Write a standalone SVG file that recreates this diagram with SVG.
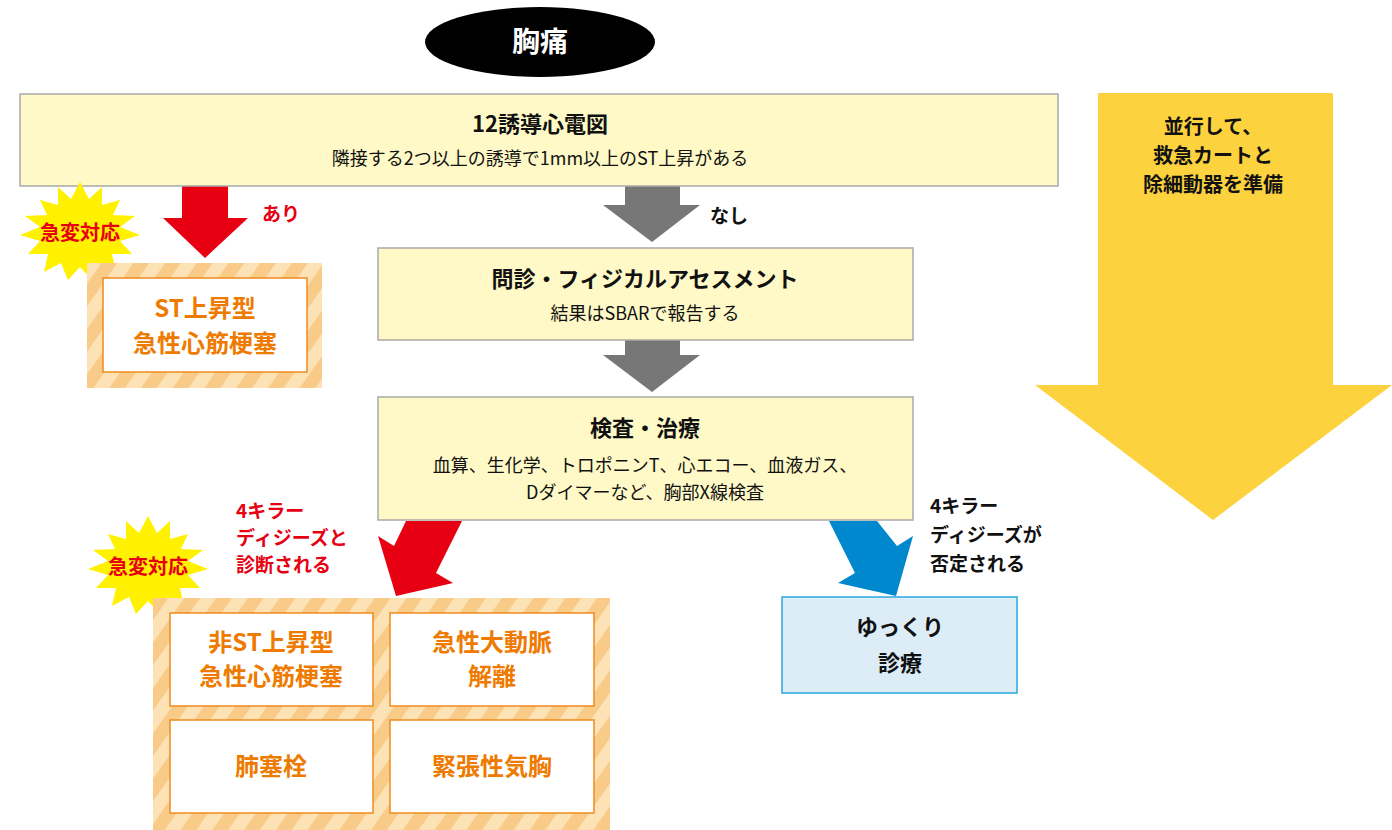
<svg xmlns="http://www.w3.org/2000/svg" width="1392" height="830" viewBox="0 0 1392 830">
<style>
text{font-family:"Noto Sans CJK JP","Noto Sans",sans-serif;text-anchor:middle}
.box{fill:#fef9c6;stroke:#a9a9a9;stroke-width:1.5}
.t{font-size:22px;font-weight:bold;fill:#111}
.s{font-size:18px;fill:#111}
.or{font-size:24px;font-weight:bold;fill:#ee7a00}
.inner{fill:#fff;stroke:#f08a1c;stroke-width:1.5}
.red{font-size:19px;font-weight:bold;fill:#e60012;text-anchor:start}
.blk{font-size:19px;font-weight:bold;fill:#111;text-anchor:start}
</style>
<defs>
<pattern id="st" patternUnits="userSpaceOnUse" width="26" height="26" patternTransform="rotate(35)">
<rect width="26" height="26" fill="#fde2b6"/><rect width="13" height="26" fill="#f9cb88"/>
</pattern>
<polygon id="burst" points="0,-50 9,-33 22,-45 22,-27 40,-32 33,-17 55,-16 40,-5 60,3 40,9 52,22 32,22 36,40 19,31 12,48 0,35 -12,48 -19,31 -36,40 -32,22 -52,22 -40,9 -60,3 -40,-5 -55,-16 -33,-17 -40,-32 -22,-27 -22,-45 -9,-33" fill="#fff100"/>
</defs>
<g id="bigarrow"><polygon points="1098,93 1333,93 1333,385 1392,385 1213,520 1035,385 1098,385" fill="#fcd23f"/>
<text x="1213" y="134" class="t" style="font-size:20px">並行して、</text>
<text x="1213" y="163" class="t" style="font-size:20px">救急カートと</text>
<text x="1213" y="192" class="t" style="font-size:20px">除細動器を準備</text></g>
<g id="connectors">
<polygon points="182,186 228,186 228,218 248,218 205,258 163,218 182,218" fill="#e60012"/>
<polygon points="625,186 680,186 680,205 700,205 652,242 603,205 625,205" fill="#777"/>
<polygon points="625,340 680,340 680,355 700,355 652,392 603,355 625,355" fill="#777"/>
<polygon points="406,521 462,521 436,573 453,583 396,596 378,536 394,546" fill="#e60012"/>
<polygon points="829,521 877,521 897,546 913,536 896,596 838,583 855,573" fill="#0088ce"/>
</g>
<g id="top"><ellipse cx="540" cy="42" rx="115" ry="35" fill="#000"/><text x="540" y="52" style="font-size:28px;font-weight:bold;fill:#fff">胸痛</text></g>
<g id="ecg"><rect class="box" x="20" y="94" width="1038" height="92"/>
<text x="540" y="132" class="t">12誘導心電図</text>
<text x="540" y="165" class="s">隣接する2つ以上の誘導で1mm以上のST上昇がある</text></g>
<text x="262" y="221" class="red">あり</text>
<text x="710" y="223" class="blk">なし</text>
<g id="burst1"><use href="#burst" x="80" y="232"/><text x="80" y="240" style="font-size:20px;font-weight:bold;fill:#e60012">急変対応</text></g>
<g id="stemi"><rect x="87" y="263" width="235" height="125" fill="url(#st)"/><rect class="inner" x="103" y="278" width="204" height="94"/>
<text x="205" y="317" class="or">ST上昇型</text><text x="205" y="352" class="or">急性心筋梗塞</text></g>
<g id="interview"><rect class="box" x="378" y="248" width="535" height="92"/>
<text x="645" y="287" class="t">問診・フィジカルアセスメント</text>
<text x="645" y="320" class="s">結果はSBARで報告する</text></g>
<g id="exam"><rect class="box" x="378" y="397" width="535" height="123"/>
<text x="645" y="436" class="t">検査・治療</text>
<text x="645" y="472" class="s">血算、生化学、トロポニンT、心エコー、血液ガス、</text>
<text x="645" y="499" class="s">Dダイマーなど、胸部X線検査</text></g>
<text x="236" y="518" class="red">4キラー</text>
<text x="236" y="545" class="red">ディジーズと</text>
<text x="236" y="572" class="red">診断される</text>
<text x="930" y="513" class="blk">4キラー</text>
<text x="930" y="542" class="blk">ディジーズが</text>
<text x="930" y="571" class="blk">否定される</text>
<g id="burst2"><use href="#burst" x="148" y="566"/><text x="148" y="574" style="font-size:20px;font-weight:bold;fill:#e60012">急変対応</text></g>
<g id="killers"><rect x="153" y="598" width="457" height="232" fill="url(#st)"/>
<rect class="inner" x="170" y="613" width="203" height="93"/><rect class="inner" x="390" y="613" width="204" height="93"/>
<rect class="inner" x="170" y="720" width="203" height="93"/><rect class="inner" x="390" y="720" width="204" height="93"/>
<text x="271" y="651" class="or">非ST上昇型</text><text x="271" y="685" class="or">急性心筋梗塞</text>
<text x="492" y="651" class="or">急性大動脈</text><text x="492" y="685" class="or">解離</text>
<text x="271" y="775" class="or">肺塞栓</text><text x="492" y="775" class="or">緊張性気胸</text></g>
<g id="slow"><rect x="782" y="597" width="235" height="96" fill="#dcedf8" stroke="#29a8e0" stroke-width="1.5"/>
<text x="900" y="635" class="t">ゆっくり</text><text x="900" y="671" class="t">診療</text></g>
</svg>
